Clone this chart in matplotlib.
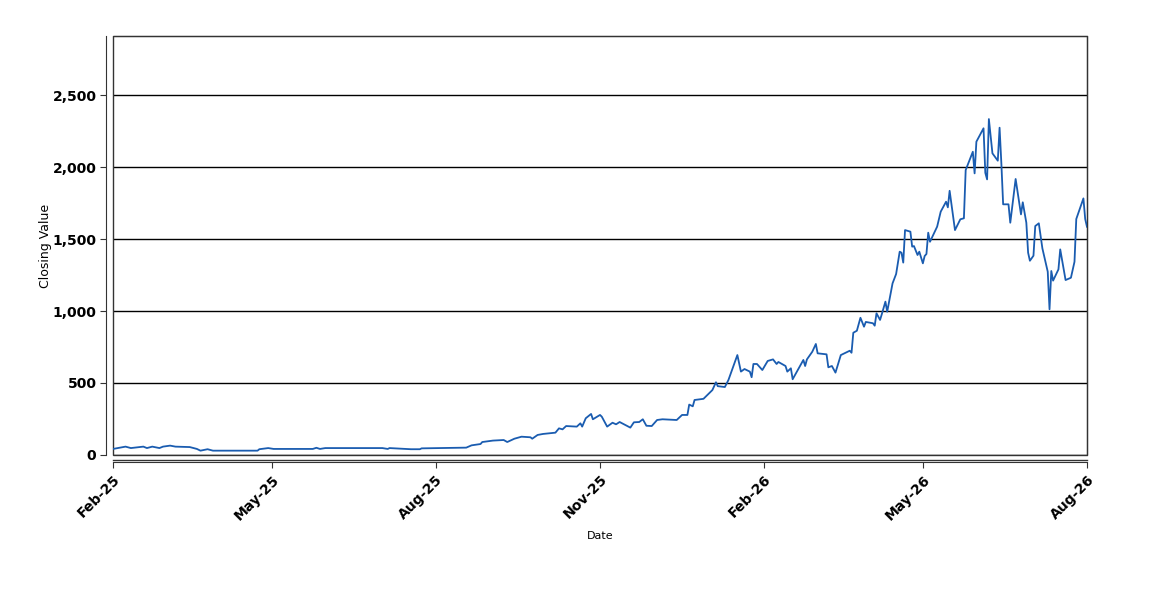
import matplotlib
matplotlib.use("Agg")
import matplotlib.pyplot as plt
import matplotlib.dates as mdates
import matplotlib.transforms as mtrans
from matplotlib.patches import Rectangle
from matplotlib.ticker import FuncFormatter
import pandas as pd

# closing values
dates = [
    "2025-02-01", "2025-02-08", "2025-02-11", "2025-02-18", "2025-02-20", "2025-02-23",
    "2025-02-27", "2025-03-01", "2025-03-05", "2025-03-08", "2025-03-16", "2025-03-20",
    "2025-03-22", "2025-03-26", "2025-03-29", "2025-04-23", "2025-04-24", "2025-04-29",
    "2025-05-02", "2025-05-24", "2025-05-26", "2025-05-28", "2025-05-31", "2025-07-02",
    "2025-07-05", "2025-07-06", "2025-07-18", "2025-07-23", "2025-07-24", "2025-08-18",
    "2025-08-21", "2025-08-26", "2025-08-27", "2025-09-02", "2025-09-08", "2025-09-10",
    "2025-09-14", "2025-09-18", "2025-09-23", "2025-09-24", "2025-09-27", "2025-09-30",
    "2025-10-07", "2025-10-09", "2025-10-11", "2025-10-13", "2025-10-19", "2025-10-21",
    "2025-10-22", "2025-10-24", "2025-10-27", "2025-10-28", "2025-11-01", "2025-11-02",
    "2025-11-05", "2025-11-08", "2025-11-10", "2025-11-12", "2025-11-18", "2025-11-20",
    "2025-11-23", "2025-11-25", "2025-11-27", "2025-11-30", "2025-12-03", "2025-12-06",
    "2025-12-14", "2025-12-17", "2025-12-20", "2025-12-21", "2025-12-23", "2025-12-24",
    "2025-12-29", "2026-01-03", "2026-01-05", "2026-01-06", "2026-01-10", "2026-01-12",
    "2026-01-17", "2026-01-19", "2026-01-21", "2026-01-24", "2026-01-25", "2026-01-26",
    "2026-01-28", "2026-01-31", "2026-02-03", "2026-02-06", "2026-02-08", "2026-02-09",
    "2026-02-13", "2026-02-14", "2026-02-16", "2026-02-17", "2026-02-23", "2026-02-24",
    "2026-02-25", "2026-02-28", "2026-03-02", "2026-03-03", "2026-03-08", "2026-03-09",
    "2026-03-11", "2026-03-13", "2026-03-16", "2026-03-21", "2026-03-22", "2026-03-23",
    "2026-03-25", "2026-03-27", "2026-03-29", "2026-03-30", "2026-04-03", "2026-04-04",
    "2026-04-05", "2026-04-07", "2026-04-08", "2026-04-10", "2026-04-11", "2026-04-14",
    "2026-04-16", "2026-04-18", "2026-04-19", "2026-04-20", "2026-04-21", "2026-04-24",
    "2026-04-25", "2026-04-26", "2026-04-28", "2026-04-29", "2026-05-01", "2026-05-02",
    "2026-05-03", "2026-05-04", "2026-05-05", "2026-05-09", "2026-05-11", "2026-05-14",
    "2026-05-15", "2026-05-16", "2026-05-19", "2026-05-22", "2026-05-24", "2026-05-25",
    "2026-05-29", "2026-05-30", "2026-05-31", "2026-06-04", "2026-06-05", "2026-06-06",
    "2026-06-07", "2026-06-09", "2026-06-12", "2026-06-13", "2026-06-14", "2026-06-15",
    "2026-06-18", "2026-06-19", "2026-06-22", "2026-06-25", "2026-06-26", "2026-06-28",
    "2026-06-29", "2026-06-30", "2026-07-02", "2026-07-03", "2026-07-05", "2026-07-07",
    "2026-07-10", "2026-07-11", "2026-07-12", "2026-07-13", "2026-07-16", "2026-07-17",
    "2026-07-20", "2026-07-23", "2026-07-25", "2026-07-26", "2026-07-30", "2026-07-31",
    "2026-08-01",
]
closing = [
    42, 58, 48, 58, 48, 58,
    48, 58, 65, 58, 55, 42,
    30, 40, 30, 30, 40, 48,
    42, 42, 50, 42, 48, 48,
    42, 48, 40, 40, 46, 51,
    67, 76, 90, 100, 104, 90,
    113, 127, 123, 113, 139, 146,
    155, 185, 178, 201, 197, 220,
    197, 255, 285, 248, 278, 266,
    197, 224, 213, 229, 190, 227,
    229, 248, 203, 201, 243, 248,
    243, 278, 278, 350, 338, 382,
    390, 451, 505, 478, 472, 521,
    694, 579, 597, 579, 540, 632,
    632, 590, 653, 664, 632, 646,
    618, 579, 602, 526, 660, 618,
    664, 717, 771, 706, 699, 609,
    618, 572, 694, 724, 710, 849,
    863, 953, 891, 924, 915, 898,
    984, 938, 979, 1065, 995, 1192,
    1257, 1412, 1405, 1336, 1562, 1551,
    1447, 1451, 1389, 1412, 1331, 1382,
    1396, 1544, 1481, 1586, 1690, 1759,
    1720, 1835, 1562, 1637, 1644, 1979,
    2106, 1956, 2176, 2269, 1960, 1914,
    2333, 2095, 2044, 2273, 2025, 1741,
    1741, 1613, 1917, 1671, 1755, 1613,
    1405, 1349, 1384, 1590, 1609, 1435,
    1273, 1012, 1278, 1211, 1289, 1428,
    1215, 1231, 1342, 1639, 1782, 1639,
    1585,
]
y_ticks = [0, 500, 1000, 1500, 2000, 2500]

x = pd.to_datetime(dates)

fig = plt.figure(figsize=(11.5, 6), dpi=100)
ax = fig.add_axes([0.0983, 0.2417, 0.8469, 0.6983])

ax.plot(x, closing, color="#1a5cb0", lw=1.3)

ax.set_xlim(pd.Timestamp("2025-02-01"), pd.Timestamp("2026-08-01"))
ax.set_ylim(0, 2910)
ax.set_yticks(y_ticks)
ax.yaxis.set_major_formatter(FuncFormatter(lambda v, p: f"{int(v):,}"))
ax.xaxis.set_major_locator(mdates.MonthLocator(bymonth=[2, 5, 8, 11]))
ax.xaxis.set_major_formatter(mdates.DateFormatter("%b-%y"))

ax.grid(axis="y", color="black", lw=1)
ax.set_axisbelow(True)

# offset axis lines plus an inner frame, like the original
for s in ["left", "bottom"]:
    ax.spines[s].set_position(("outward", 5))
    ax.spines[s].set_color("#333333")
for s in ["top", "right"]:
    ax.spines[s].set_color("#333333")
ax.add_patch(Rectangle((0, 0), 1, 1, transform=ax.transAxes, fill=False,
                       ec="#333333", lw=1, clip_on=False))
below = mtrans.offset_copy(ax.transAxes, fig=fig, y=-5, units="dots")
ax.plot([0, 1], [0, 0], transform=below, color="#333333", lw=1, clip_on=False)

ax.tick_params(axis="both", labelsize=10, length=4, color="#333333")
ax.tick_params(axis="y", pad=3)
for lbl in ax.get_xticklabels() + ax.get_yticklabels():
    lbl.set_fontweight("bold")
for lbl in ax.get_xticklabels():
    lbl.set_rotation(45)
    lbl.set_ha("right")
    lbl.set_rotation_mode("anchor")

ax.set_ylabel("Closing Value", fontsize=9)
ax.yaxis.set_label_coords(-0.063, 0.5)
ax.set_xlabel("Date", fontsize=8)
ax.xaxis.set_label_coords(0.5, -0.182)

fig.savefig("out.png", dpi=100, facecolor="white")
